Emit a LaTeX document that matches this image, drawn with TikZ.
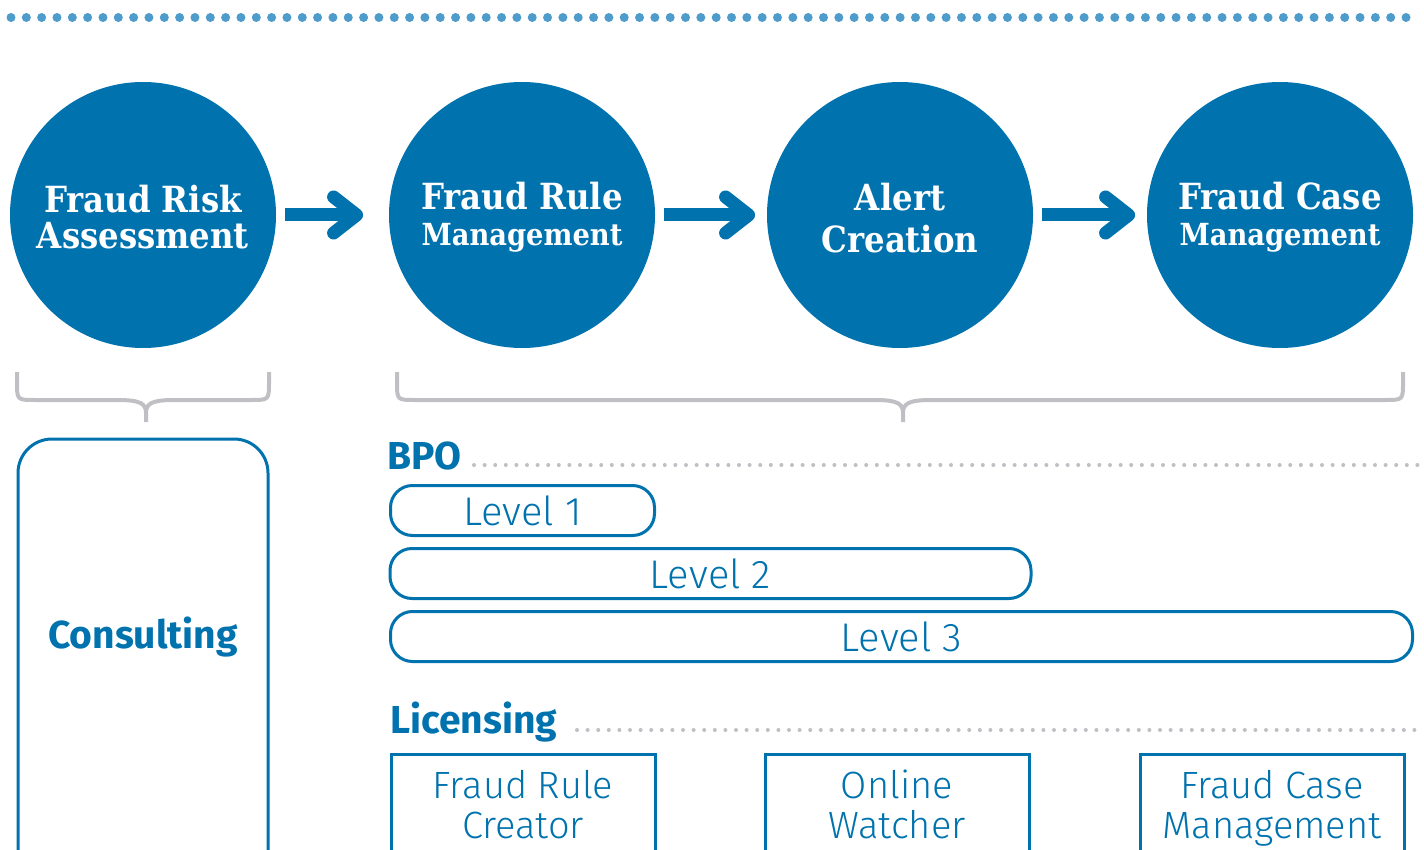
\documentclass[tikz,border=0pt]{standalone}
\usepackage{fontspec}
\usetikzlibrary{calc}
\newfontfamily\slab{DejaVu Serif Condensed Bold}
\newfontfamily\lightf{Fira Sans Light}
\newfontfamily\boldf{Fira Sans Bold}
\definecolor{fblue}{RGB}{0,114,174}
\definecolor{dotblue}{RGB}{78,156,204}
\definecolor{bracegrey}{RGB}{192,192,196}
\definecolor{dotgrey}{RGB}{192,192,196}
\tikzset{
  stage/.style={circle, fill=fblue, minimum size=133pt, inner sep=0pt},
  stagetext/.style={text=white, align=center, inner sep=0pt},
  stagefont/.style={font=\slab\fontsize{18}{18}\selectfont},
  shaft/.style={draw=fblue, line width=6.5pt},
  chevron/.style={draw=fblue, line width=6.5pt, line cap=round, line join=round},
  bracestyle/.style={draw=bracegrey, line width=2pt},
  levelbox/.style={draw=fblue, line width=1.5pt, rounded corners=11pt, minimum height=25pt, inner sep=0pt, text=fblue, font=\lightf\fontsize{20}{20}\selectfont},
  licbox/.style={draw=fblue, line width=1.5pt, inner sep=0pt},
  lictext/.style={text=fblue, align=center, font=\lightf\fontsize{19}{20}\selectfont},
  headtext/.style={text=fblue, font=\boldf\fontsize{19.5}{20}\selectfont, inner sep=0pt},
  greydots/.style={draw=dotgrey, line width=2pt, line cap=round, dash pattern=on 0pt off 5.3pt},
}
\begin{document}
\begin{tikzpicture}[x=0.5pt,y=-0.5pt]
\clip (0,0) rectangle (1424,850);
\useasboundingbox (0,0) rectangle (1424,850);
% top dotted rule
\foreach \i in {0,...,91} \fill[dotblue] (11+\i*15.33,17.5) circle (2.25pt);
% stages
\node[stage] (c1) at (143,215) {};
\node[stage] (c2) at (522,215) {};
\node[stage] (c3) at (900,215) {};
\node[stage] (c4) at (1280,215) {};
\node[stagetext, stagefont] (t1) at ($(c1)+(0,2)$) {Fraud Risk\\Assessment};
\node[stagetext, stagefont] (t2) at ($(c2)+(0,2)$) {Fraud Rule\\{\fontsize{15.2}{18}\selectfont Management}};
\node[stagetext, font=\slab\fontsize{18}{21}\selectfont] (t3) at ($(c3)+(0,3)$) {Alert\\Creation};
\node[stagetext, stagefont] (t4) at ($(c4)+(0,2)$) {Fraud Case\\{\fontsize{15.2}{18}\selectfont Management}};
% arrows
\foreach \a/\b/\g in {c1/c2/32, c2/c3/18, c3/c4/18}{
  \coordinate (s) at ($(\a.east)+(9,0)$);
  \coordinate (t) at ($(\b.west)+(-\g,0)$);
  \draw[shaft] (s) -- ($(t)+(-4,0)$);
  \draw[chevron] ($(t)+(-23,-18)$) -- (t) -- ($(t)+(-23,18)$);
}
% braces
\draw[bracestyle] (17,372) -- (17,382) .. controls (17,400) .. (35,400) -- (118,400)
  .. controls (141,400) and (146,404) .. (146,413) -- (146,422)
  (146,413) .. controls (146,404) and (151,400) .. (174,400) -- (251,400)
  .. controls (269,400) .. (269,382) -- (269,372);
\draw[bracestyle] (397,372) -- (397,382) .. controls (397,400) .. (415,400) -- (875,400)
  .. controls (898,400) and (903,404) .. (903,413) -- (903,422)
  (903,413) .. controls (903,404) and (908,400) .. (931,400) -- (1385,400)
  .. controls (1403,400) .. (1403,382) -- (1403,372);
% consulting
\draw[draw=fblue, line width=1.5pt, rounded corners=17pt] (18,900) -- (18,439) -- (268,439) -- (268,900);
\node[headtext] (cons) at (143,637) {Consulting};
% BPO
\node[headtext, anchor=base west] (bpo) at (387,469) {BPO};
\draw[greydots] (474,465) -- (1418,465);
\node[levelbox, minimum width=132pt] (l1) at (522.5,510.5) {Level 1};
\node[levelbox, minimum width=320.5pt] (l2) at (710.5,573.5) {Level 2};
\node[levelbox, minimum width=511pt] (l3) at (901.5,636.5) {Level 3};
% Licensing
\node[headtext, anchor=base west] (lic) at (390,733) {Licensing};
\draw[greydots] (577,730) -- (1418,730);
\draw[licbox] (391,900) -- (391,754) -- (655,754) -- (655,900);
\draw[licbox] (765,900) -- (765,754) -- (1029,754) -- (1029,900);
\draw[licbox] (1140,900) -- (1140,754) -- (1404,754) -- (1404,900);
\node[lictext, anchor=base] (p1) at (523,838) {Fraud Rule\\Creator};
\node[lictext, anchor=base] (p2) at (897,838) {Online\\Watcher};
\node[lictext, anchor=base] (p3) at (1272,838) {Fraud Case\\Management};
\end{tikzpicture}
\end{document}
